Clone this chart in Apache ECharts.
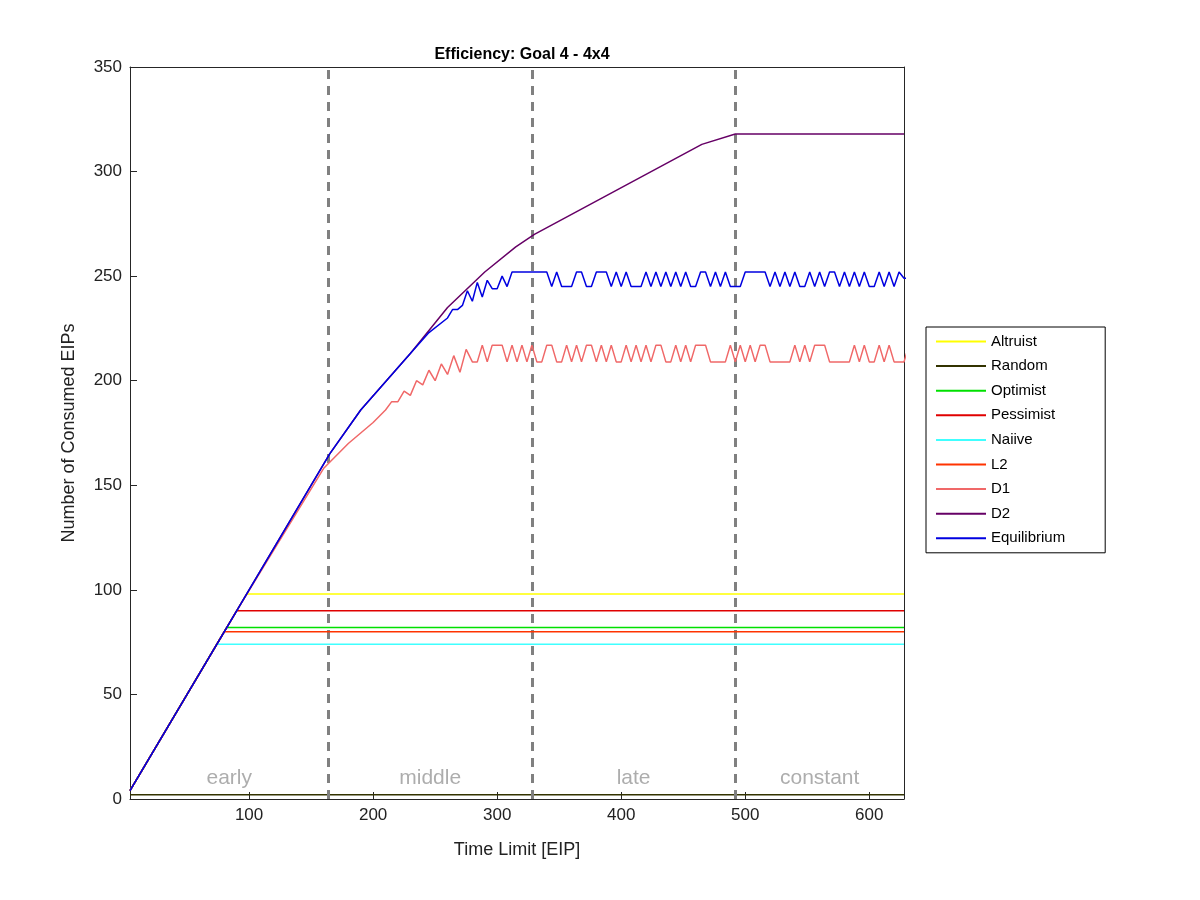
<!DOCTYPE html>
<html><head><meta charset="utf-8">
<script src="https://cdn.jsdelivr.net/npm/echarts@6/dist/echarts.min.js"></script>
<style>body{margin:0;background:#fff}#c{width:1200px;height:900px}</style></head>
<body><div id="c"></div>
<script>
const seriesNames = ['Altruist','Random','Optimist','Pessimist','Naiive','L2','D1','D2','Equilibrium'];
const colors = ['#ffff00','#333300','#00e000','#e00000','#40ffff','#ff3300','#f06868','#660066','#0000e0'];
const xTicks = [100,200,300,400,500,600];
const altruist = [[4,4],[98,98],[628,98]];
const random = [[4,2],[628,2]];
const optimist = [[4,4],[82,82],[628,82]];
const pessimist = [[4,4],[90,90],[628,90]];
const naiive = [[4,4],[74,74],[628,74]];
const l2 = [[4,4],[80,80],[628,80]];
const d2 = [[4,4],[165,165],[190,186],[230,213],[260,235],[290,252],[315,264],[330,270],[465,313],[492,318],[628,318]];
const eqRise = [[4,4],[90,90],[165,165],[190,186],[230,213],[245,223],[260,230],[264,234],[268,234],[272,236],[276,243],[280,238],[284,247],[288,240],[292,248],[296,244],[300,244],[304,250],[308,245],[312,252]];
const eqOscStart = 316;
const eqOsc = [252,252,252,252,252,252,252,245,252,245,245,245,252,252,245,245,252,252,252,245,252,245,252,245,245,245,252,245,252,245,252,245,252,245,252,245,245,252,252,245,252,245,252,245,245,245,252,252,252,252,252,245,252,245,252,245,252,245,245,252,245,252,245,252,252,245,252,245,252,245,252,245,245,252,245,252,245,252,249,249];
const d1Rise = [[4,4],[90,90],[160,158],[180,170],[200,180],[210,186],[215,190],[220,190],[225,195],[230,193],[235,200],[240,198],[245,205],[250,200],[255,208],[260,203],[265,212],[270,204],[275,215],[280,209]];
const d1OscStart = 284;
const d1Osc = [209,217,209,217,217,217,209,217,209,217,209,217,209,209,217,217,209,209,217,209,217,209,217,217,209,217,209,217,209,209,217,209,217,209,217,209,217,217,209,209,217,209,217,209,217,217,217,209,209,209,209,217,209,217,209,217,209,217,217,209,209,209,209,209,217,209,217,209,217,217,217,209,209,209,209,209,217,209,217,209,209,217,209,217,209,209,209,217,209,209,217,217,217];
const phases = [164,328,492];
const phaseLabels = [[84,'early'],[246,'middle'],[410,'late'],[560,'constant']];

const eq = eqRise.concat(eqOsc.map((v,i)=>[eqOscStart+4*i,v]));
const d1 = d1Rise.concat(d1Osc.map((v,i)=>[d1OscStart+4*i,v]));
const allData = [altruist,random,optimist,pessimist,naiive,l2,d1,d2,eq];

const chart = echarts.init(document.getElementById('c'));
const font = 'Liberation Sans, Arial, sans-serif';
const series = allData.map((d,i)=>({
  name: seriesNames[i], type:'line', data:d, symbol:'none', showSymbol:false,
  lineStyle:{width:1.5,color:colors[i]}, itemStyle:{color:colors[i]}, animation:false, z:3+i
}));
series[0].markLine = {silent:true, symbol:'none', label:{show:false},
  lineStyle:{type:[9,7],color:'#808080',width:3}, data: phases.map(p=>({xAxis:p}))};
series.push({type:'scatter', data: phaseLabels.map(p=>[p[0],10,p[1]]), symbolSize:0, silent:true,
  label:{show:true, formatter:p=>p.data[2], color:'#999999', fontSize:21, fontFamily:font, position:'inside'}});
chart.setOption({
  animation:false,
  title:{text:'Efficiency: Goal 4 - 4x4', left:517, top:42, textAlign:'center',
    textStyle:{fontSize:16,fontWeight:'bold',fontFamily:font,color:'#000'}},
  grid:{left:130,right:296,top:67,bottom:101},
  legend:{data:seriesNames, orient:'vertical', left:926, top:327, itemWidth:50, itemHeight:2, itemGap:9.6,
    icon:'rect', borderColor:'#000', borderWidth:1, padding:[7,40,7,10],
    textStyle:{fontSize:15,fontFamily:font,color:'#000'}, backgroundColor:'#fff'},
  xAxis:[{type:'value', min:4, max:628, name:'Time Limit [EIP]', nameLocation:'middle', nameGap:42,
    nameTextStyle:{fontSize:18,fontFamily:font,color:'#222'},
    axisLine:{lineStyle:{color:'#262626',width:1}},
    axisTick:{inside:true,length:7,customValues:xTicks},
    axisLabel:{fontSize:17,fontFamily:font,color:'#222',customValues:xTicks},
    splitLine:{show:false}},
    {type:'value', min:4, max:628, position:'top', axisLine:{show:true,onZero:false,lineStyle:{color:'#262626'}}, axisTick:{show:false}, axisLabel:{show:false}, splitLine:{show:false}}],
  yAxis:[{type:'value', min:0, max:350, interval:50, name:'Number of Consumed EIPs', nameLocation:'middle', nameGap:52,
    nameTextStyle:{fontSize:18,fontFamily:font,color:'#222'},
    axisLine:{show:true,lineStyle:{color:'#262626'}}, axisTick:{inside:true,length:7},
    axisLabel:{fontSize:17,fontFamily:font,color:'#222'}, splitLine:{show:false}},
    {type:'value', min:0, max:350, position:'right', axisLine:{show:true,lineStyle:{color:'#262626'}}, axisTick:{show:false}, axisLabel:{show:false}, splitLine:{show:false}}],
  series
});
</script></body></html>
